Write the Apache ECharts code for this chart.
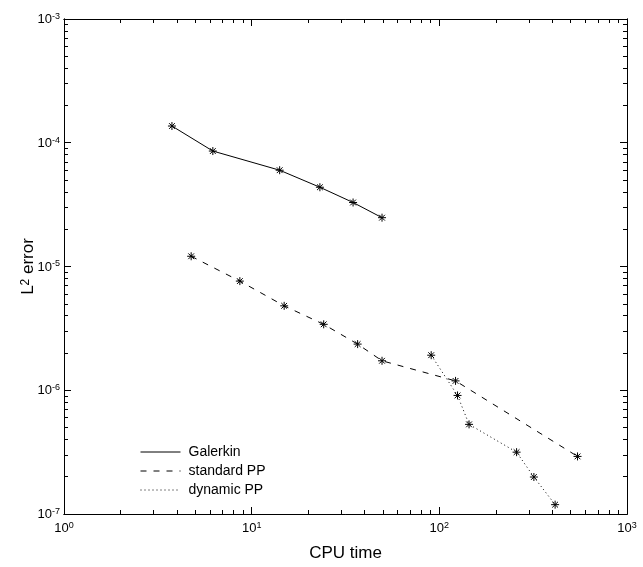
<!DOCTYPE html>
<html>
<head>
<meta charset="utf-8">
<script src="https://cdn.jsdelivr.net/npm/echarts@6/dist/echarts.min.js"></script>
<style>
html,body{margin:0;padding:0;background:#fff;}
#chart{width:643px;height:567px;}
</style>
</head>
<body>
<div id="chart"></div>
<script>
// ---- data ----
var galerkinX = [3.76, 6.21, 14.1, 23.1, 34.7, 49.5];
var galerkinY = [1.365e-4, 8.57e-5, 6.0e-5, 4.37e-5, 3.29e-5, 2.48e-5];
var standardX = [4.76, 8.65, 14.9, 24.2, 36.7, 49.5, 122, 545];
var standardY = [1.21e-5, 7.62e-6, 4.81e-6, 3.41e-6, 2.36e-6, 1.73e-6, 1.19e-6, 2.92e-7];
var dynamicX = [90.5, 125, 144, 258, 319, 414];
var dynamicY = [1.92e-6, 9.08e-7, 5.30e-7, 3.16e-7, 1.99e-7, 1.19e-7];
var seriesNames = ['Galerkin', 'standard PP', 'dynamic PP'];
var xDecades = [1, 10, 100];
var yDecades = [1e-7, 1e-6, 1e-5, 1e-4];
var minorSteps = [2, 3, 4, 5, 6, 7, 8, 9];
var xLabelName = 'CPU time';
var yLabelName = 'L{s|2} error';

function minorValues(decades) {
  var out = [];
  decades.forEach(function (d) { minorSteps.forEach(function (m) { out.push(m * d); }); });
  return out;
}
function pairs(xs, ys) { return xs.map(function (x, i) { return [x, ys[i]]; }); }
function powLabel(v) {
  var e = Math.round(Math.log10(v));
  return '{b|10}{s|' + e + '}';
}

var FONT = '"Liberation Sans", Arial, sans-serif';
var richSup = {
  b: { fontSize: 13, fontFamily: FONT, color: '#000', padding: [6, 0, 0, 0], verticalAlign: 'bottom', lineHeight: 14 },
  s: { fontSize: 9, fontFamily: FONT, color: '#000', verticalAlign: 'top', lineHeight: 10 }
};
var axisLineStyle = { show: true, lineStyle: { color: '#000', width: 1 } };
var asterisk = 'path://M0,-1L0,1M-1,0L1,0M-0.72,-0.72L0.72,0.72M-0.72,0.72L0.72,-0.72';

function xAxisDef(pos, minor, labels) {
  return {
    type: 'log', logBase: 10, min: 1, max: 1000, position: pos,
    axisLine: axisLineStyle,
    axisTick: minor ? { show: true, inside: true, length: 4, lineStyle: { color: '#000' }, customValues: minorValues(xDecades) }
                    : { show: true, inside: true, length: 7, lineStyle: { color: '#000' } },
    axisLabel: labels ? { show: true, formatter: powLabel, rich: richSup, margin: 7 } : { show: false },
    splitLine: { show: false },
    name: labels ? xLabelName : '',
    nameLocation: 'middle', nameGap: 31, nameMoveOverlap: false,
    nameTextStyle: { fontSize: 17, fontFamily: FONT, color: '#000' }
  };
}
function yAxisDef(pos, minor, labels) {
  return {
    type: 'log', logBase: 10, min: 1e-7, max: 1e-3, position: pos,
    axisLine: axisLineStyle,
    axisTick: minor ? { show: true, inside: true, length: 4, lineStyle: { color: '#000' }, customValues: minorValues(yDecades) }
                    : { show: true, inside: true, length: 7, lineStyle: { color: '#000' } },
    axisLabel: labels ? { show: true, formatter: powLabel, rich: richSup, margin: 4 } : { show: false },
    splitLine: { show: false },
    name: labels ? yLabelName : '',
    nameLocation: 'middle', nameGap: 27, nameRotate: 90, nameMoveOverlap: false,
    nameTextStyle: { fontSize: 17, fontFamily: FONT, color: '#000',
      rich: { s: { fontSize: 12, fontFamily: FONT, color: '#000', verticalAlign: 'top', lineHeight: 12 } } }
  };
}

function lineSeries(name, xs, ys, type) {
  return {
    name: name, type: 'line', xAxisIndex: 0, yAxisIndex: 0,
    data: pairs(xs, ys),
    symbol: asterisk, symbolSize: 8, symbolKeepAspect: true, showSymbol: true,
    itemStyle: { color: '#000', borderColor: '#000', borderWidth: 1 },
    lineStyle: { color: '#000', width: 1, type: type },
    emphasis: { disabled: true },
    animation: false
  };
}

var chart = echarts.init(document.getElementById('chart'), null, { renderer: 'canvas' });
chart.setOption({
  backgroundColor: '#fff',
  animation: false,
  grid: { left: 64, right: 16, top: 19, bottom: 47, containLabel: false },
  xAxis: [xAxisDef('bottom', false, true), xAxisDef('bottom', true, false), xAxisDef('top', false, false), xAxisDef('top', true, false)],
  yAxis: [yAxisDef('left', false, true), yAxisDef('left', true, false), yAxisDef('right', false, false), yAxisDef('right', true, false)],
  legend: {
    orient: 'vertical', left: 140, top: 445, padding: 0,
    itemWidth: 40, itemHeight: 12, itemGap: 5,
    itemStyle: { color: 'rgba(0,0,0,0)', borderColor: 'rgba(0,0,0,0)', borderWidth: 0 },
    lineStyle: { width: 1 },
    textStyle: { fontSize: 14, fontFamily: FONT, color: '#000', padding: [0, 0, 0, 3] },
    data: seriesNames
  },
  series: [
    lineSeries(seriesNames[0], galerkinX, galerkinY, 'solid'),
    lineSeries(seriesNames[1], standardX, standardY, [6, 7]),
    lineSeries(seriesNames[2], dynamicX, dynamicY, [1, 3])
  ]
});
</script>
</body>
</html>
